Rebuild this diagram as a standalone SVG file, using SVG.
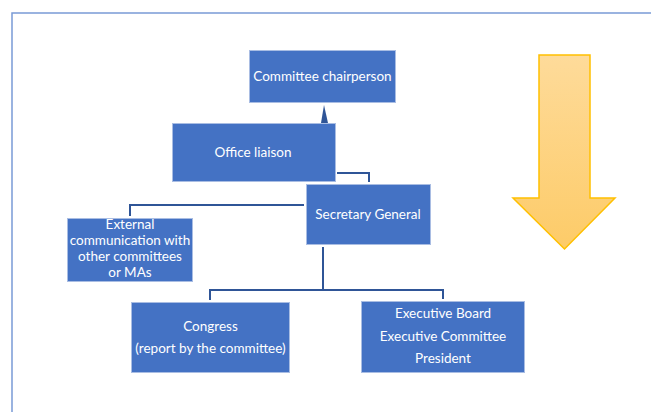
<svg xmlns="http://www.w3.org/2000/svg" width="651" height="412" viewBox="0 0 651 412">
<defs>
<linearGradient id="ag" x1="0" y1="0" x2="0" y2="1">
<stop offset="0" stop-color="#fedb9a"/>
<stop offset="1" stop-color="#fdcb68"/>
</linearGradient>
<style>
.box{fill:#4472c4;stroke:#a9bde3;stroke-width:1}
.t{font-family:Lato,"Open Sans","Liberation Sans",sans-serif;font-size:13.5px;fill:#ffffff;text-anchor:middle}
.c{fill:none;stroke:#2f5597;stroke-width:2}
</style>
</defs>
<rect width="651" height="412" fill="#ffffff"/>
<path d="M12 412 V13 H651" fill="none" stroke="#7a9bd6" stroke-width="1.5"/>
<g id="connectors">
<path class="c" d="M337 173 H369 V182"/>
<path class="c" d="M304 205 H130 V216"/>
<path class="c" d="M323 247 V290 M210 300 V290 H443 V299"/>
<path d="M324 105 L321 123 H328 Z" fill="#2f5597"/>
</g>
<g id="chairperson">
<rect class="box" x="249.5" y="50.5" width="146" height="52"/>
<text class="t" x="322.5" y="81">Committee chairperson</text>
</g>
<g id="office-liaison">
<rect class="box" x="172.5" y="123.5" width="163" height="58"/>
<text class="t" x="253" y="157">Office liaison</text>
</g>
<g id="secretary-general">
<rect class="box" x="306.5" y="184.5" width="124" height="60"/>
<text class="t" x="368" y="219">Secretary General</text>
</g>
<g id="external">
<rect class="box" x="67.5" y="218.5" width="125" height="63"/>
<text class="t" x="130" y="229">External</text>
<text class="t" x="130" y="245">communication with</text>
<text class="t" x="130" y="261">other committees</text>
<text class="t" x="130" y="277">or MAs</text>
</g>
<g id="congress">
<rect class="box" x="131.5" y="302.5" width="158" height="70"/>
<text class="t" x="210.5" y="331">Congress</text>
<text class="t" x="210.5" y="353">(report by the committee)</text>
</g>
<g id="executive">
<rect class="box" x="361.5" y="301.5" width="163" height="71"/>
<text class="t" x="443" y="318">Executive Board</text>
<text class="t" x="443" y="341">Executive Committee</text>
<text class="t" x="443" y="363">President</text>
</g>
<g id="down-arrow">
<path d="M539 55 H590 V198 H615 L564.5 249 L513 198 H539 Z" fill="url(#ag)" stroke="#ffc000" stroke-width="1.5" stroke-linejoin="miter"/>
</g>
</svg>
